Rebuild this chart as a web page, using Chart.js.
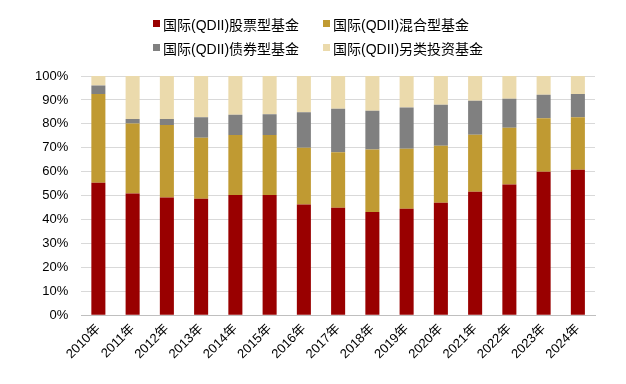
<!DOCTYPE html>
<html>
<head>
<meta charset="utf-8">
<script src="https://cdn.jsdelivr.net/npm/chart.js@4"></script>
<style>
    body { margin: 0; background: #fff; }
    .wrap { position: relative; width: 626px; height: 384px; }
    .legend {
        position: absolute; left: 153px; top: 14px;
        display: grid; grid-template-columns: 170px 170px; row-gap: 5px;
        font-family: "Liberation Sans", "Noto Sans CJK SC", sans-serif; font-size: 14px; color: #000;
    }
    .legend span { display: flex; align-items: center; height: 19px; white-space: nowrap; }
    .legend i { display: inline-block; width: 7px; height: 7px; margin-right: 3px; }
</style>
</head>
<body>
<div class="wrap">
    <div class="legend" id="legend"></div>
    <canvas id="chart" width="626" height="384"></canvas>
</div>
<script>
const years = ['2010年','2011年','2012年','2013年','2014年','2015年','2016年','2017年','2018年','2019年','2020年','2021年','2022年','2023年','2024年'];
const seriesNames = ['国际(QDII)股票型基金','国际(QDII)混合型基金','国际(QDII)债券型基金','国际(QDII)另类投资基金'];
const stockFund = [55.4, 50.9, 49.2, 48.7, 50.3, 50.3, 46.3, 45.0, 43.2, 44.5, 47.0, 51.6, 54.7, 60.0, 60.8];
const mixedFund = [37.1, 29.3, 30.3, 25.5, 25.0, 25.0, 23.7, 23.1, 26.1, 25.1, 23.9, 23.9, 23.7, 22.3, 22.0];
const bondFund  = [3.5, 1.8, 2.5, 8.6, 8.5, 8.7, 14.9, 18.2, 16.2, 17.2, 17.1, 14.2, 12.1, 9.9, 9.7];
const altFund   = [4.0, 18.0, 18.0, 17.2, 16.2, 16.0, 15.1, 13.7, 14.5, 13.2, 12.0, 10.3, 9.5, 7.8, 7.5];
const yTicks = [0, 10, 20, 30, 40, 50, 60, 70, 80, 90, 100];

const colors = ['#990000', '#C09A32', '#808080', '#EBDAAC'];
const font = "'Liberation Sans', 'Noto Sans CJK SC', sans-serif";

const legend = document.getElementById('legend');
seriesNames.forEach((name, i) => {
    const item = document.createElement('span');
    const box = document.createElement('i');
    box.style.background = colors[i];
    item.appendChild(box);
    item.appendChild(document.createTextNode(name));
    legend.appendChild(item);
});

const allData = [stockFund, mixedFund, bondFund, altFund];

new Chart(document.getElementById('chart'), {
    type: 'bar',
    data: {
        labels: years,
        datasets: allData.map((d, i) => ({
            label: seriesNames[i],
            data: d,
            backgroundColor: colors[i],
            borderWidth: 0,
            categoryPercentage: 1,
            barPercentage: 0.41
        }))
    },
    options: {
        responsive: false,
        animation: false,
        layout: { padding: { top: 76, right: 31, left: 22, bottom: 16 } },
        plugins: { legend: { display: false }, tooltip: { enabled: false } },
        scales: {
            x: {
                stacked: true,
                grid: { display: false, drawTicks: false },
                border: { color: '#bfbfbf' },
                ticks: {
                    color: '#000', font: { family: font, size: 13 },
                    maxRotation: 45, minRotation: 45, padding: 6
                }
            },
            y: {
                stacked: true,
                min: 0, max: 100,
                afterBuildTicks: axis => { axis.ticks = yTicks.map(v => ({ value: v })); },
                grid: { color: '#d9d9d9', drawTicks: false },
                border: { display: false },
                ticks: {
                    color: '#000', font: { family: font, size: 13 }, padding: 13,
                    callback: v => v + '%'
                }
            }
        }
    }
});
</script>
</body>
</html>
